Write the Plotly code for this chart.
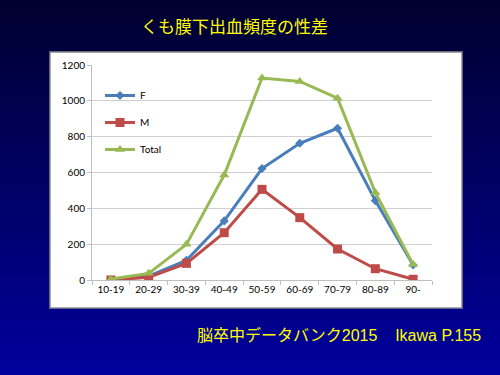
import plotly.graph_objects as go

categories = ["10-19", "20-29", "30-39", "40-49", "50-59", "60-69", "70-79", "80-89", "90-"]
female = [2, 22, 110, 330, 622, 763, 847, 443, 84]
male = [0, 15, 93, 264, 506, 348, 173, 63, 4]
total = [5, 37, 199, 586, 1127, 1108, 1015, 488, 86]
y_ticks = [0, 200, 400, 600, 800, 1000, 1200]

title_text = "くも膜下出血頻度の性差"
source_text = "脳卒中データバンク2015&nbsp;&nbsp;&nbsp;&nbsp;Ikawa P.155"

W, H = 500, 375
L, R, T, B = 92, 68, 65, 95
PW, PH = W - L - R, H - T - B

def px2x(px):
    return (px - L) / PW

def px2y(py):
    return (H - B - py) / PH

fig = go.Figure()

series = [
    ("F", female, "#4A7EBB", "diamond", 7),
    ("M", male, "#BE4B48", "square", 9),
    ("Total", total, "#98B954", "triangle-up", 9),
]
for name, vals, col, sym, sz in series:
    fig.add_trace(go.Scatter(
        x=categories, y=vals, name=name, mode="lines+markers",
        line=dict(color=col, width=3),
        marker=dict(symbol=sym, size=sz, color=col),
        legendgroup=name,
    ))

shapes = []
# gradient background
n = 75
for i in range(n):
    t = i / (n - 1)
    b = int(0x30 + (0x9c - 0x30) * t)
    y0 = i * H / n
    y1 = (i + 1) * H / n + 0.6
    shapes.append(dict(type="rect", xref="paper", yref="paper",
                       x0=px2x(-2), x1=px2x(W + 2), y0=px2y(y1), y1=px2y(y0),
                       line=dict(width=0), fillcolor=f"rgb(0,0,{b})", layer="below"))
# white chart box
shapes.append(dict(type="rect", xref="paper", yref="paper",
                   x0=px2x(50), x1=px2x(462), y0=px2y(308), y1=px2y(52),
                   line=dict(width=1.5, color="#8c8c8c"), fillcolor="white", layer="below"))

fig.update_layout(
    width=W, height=H,
    margin=dict(l=L, r=R, t=T, b=B, pad=0),
    paper_bgcolor="#000066",
    plot_bgcolor="rgba(0,0,0,0)",
    shapes=shapes,
    showlegend=True,
    legend=dict(x=px2x(100), y=px2y(81), xanchor="left", yanchor="top",
                bgcolor="rgba(0,0,0,0)", font=dict(family="Lato", size=10, color="black"),
                tracegroupgap=8, itemwidth=30),
    xaxis=dict(type="category", range=[-0.5, 8.5], showgrid=False,
               showline=True, linecolor="#bfbfbf", linewidth=1,
               ticks="outside", tickson="boundaries", ticklen=4, tickcolor="#bfbfbf",
               tickfont=dict(family="Lato", size=10, color="black"), fixedrange=True),
    yaxis=dict(range=[0, 1200], tickvals=y_ticks, showgrid=True, gridcolor="#d0d0d0",
               gridwidth=1, zeroline=False, showline=True, linecolor="#bfbfbf",
               ticks="outside", ticklen=4, tickcolor="#bfbfbf",
               tickfont=dict(family="Lato", size=10, color="black"), fixedrange=True),
    annotations=[
        dict(text=title_text, xref="paper", yref="paper", x=px2x(234), y=px2y(28),
             xanchor="center", yanchor="middle", showarrow=False,
             font=dict(family="Liberation Sans, Noto Sans CJK JP", size=17, color="#FFFF00")),
        dict(text=source_text, xref="paper", yref="paper", x=px2x(483), y=px2y(335),
             xanchor="right", yanchor="middle", showarrow=False,
             font=dict(family="Liberation Sans, Noto Sans CJK JP", size=16, color="#FFFF00")),
    ],
)

fig.write_html("out.html", config={"displayModeBar": False},
               post_script="document.body.style.margin='0';document.body.style.background='#000066';")
